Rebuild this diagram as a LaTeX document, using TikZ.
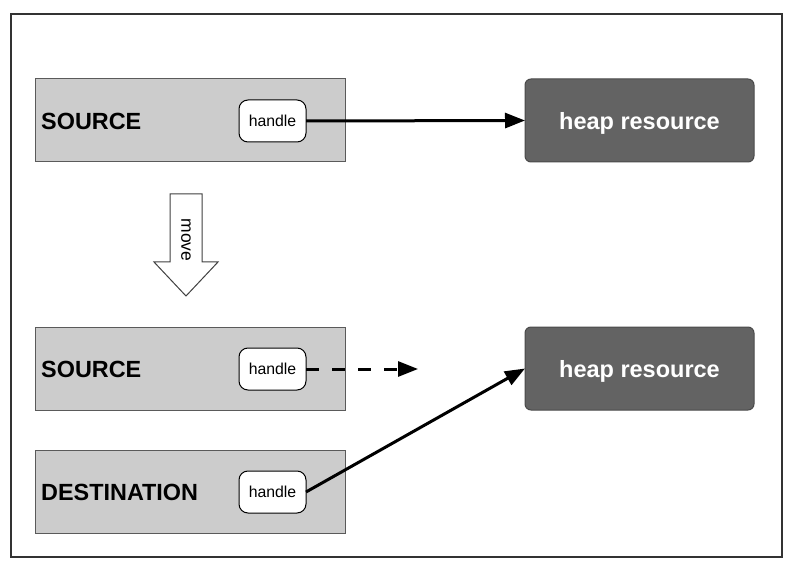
\documentclass[tikz,border=0pt]{standalone}
\usepackage{fontspec}
\setmainfont{Liberation Sans}
\usetikzlibrary{arrows.meta}
\definecolor{boxgray}{HTML}{CCCCCC}
\definecolor{boxline}{HTML}{5A5A5A}
\definecolor{heapfill}{HTML}{636363}
\definecolor{heapline}{HTML}{4A4A4A}
\tikzset{
  objbox/.style={draw=boxline, line width=1pt, fill=boxgray, minimum width=310pt,
    minimum height=83pt, anchor=north west, outer sep=0pt, inner sep=0pt},
  heapbox/.style={draw=heapline, line width=1pt, fill=heapfill, rounded corners=6pt,
    minimum width=229pt, minimum height=83pt, anchor=north west, outer sep=0pt,
    text depth=0pt, text=white, font=\fontsize{23.5}{27}\selectfont\bfseries},
  handlebox/.style={draw=black, line width=1pt, fill=white, rounded corners=9pt,
    minimum width=67pt, minimum height=42pt, outer sep=0pt, inner sep=0pt,
    font=\fontsize{15.8}{18}\selectfont},
  objlabel/.style={anchor=west, inner sep=0pt, font=\fontsize{23.4}{27}\selectfont\bfseries},
  ptr/.style={line width=3pt, -{Triangle[length=20pt,width=15pt]}},
}
\begin{document}
\begin{tikzpicture}[x=1pt,y=-1pt]
\useasboundingbox (0,0) rectangle (798,572);
% outer frame
\draw[line width=1.5pt, draw=black!80] (11,14) rectangle (782,557);

% before the move
\node[objbox] (src1) at (35,79) {};
\node[objlabel] (src1lab) at (41,121.5) {SOURCE};
\node[handlebox] (h1) at (272.5,121) {handle};
\node[heapbox] (heap1) at (525,79) {heap resource};
\draw[ptr] (h1.east) -- (heap1.west);

% move block arrow
\draw[line width=1pt, draw=black!75, fill=white]
  (170,194) -- (202,194) -- (202,262) -- (218,262) -- (186,296)
  -- (154,262) -- (170,262) -- cycle;
\node[rotate=-90, inner sep=0pt, font=\fontsize{17.5}{20}\selectfont] (mv) at (186,240) {move};

% after the move
\node[objbox] (src2) at (35,327) {};
\node[objlabel] (src2lab) at (41,369.5) {SOURCE};
\node[handlebox] (h2) at (272.5,369) {handle};
\coordinate (gone) at (418,369);
\draw[ptr, dash pattern=on 13pt off 13pt] (h2.east) -- (gone);

\node[heapbox] (heap2) at (525,327) {heap resource};

\node[objbox] (dst) at (35,450) {};
\node[objlabel] (dstlab) at (41,492.5) {DESTINATION};
\node[handlebox] (h3) at (272.5,492) {handle};
\draw[ptr] (h3.east) -- (heap2.west);
\end{tikzpicture}
\end{document}
